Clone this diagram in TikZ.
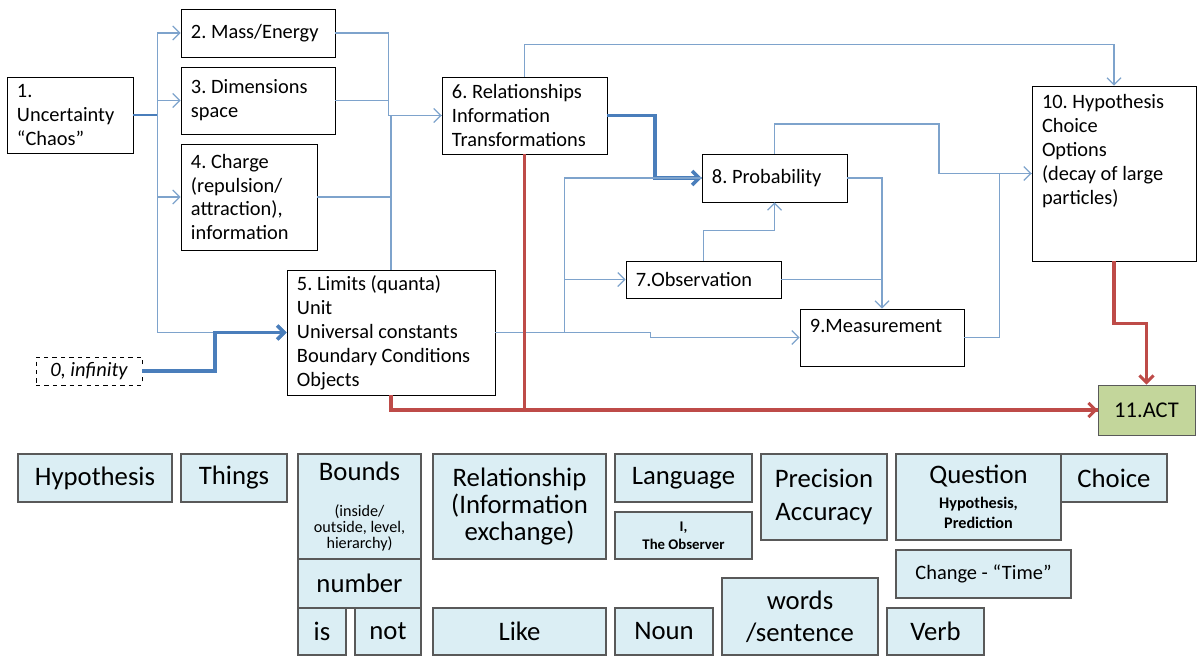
\documentclass[tikz,border=0pt]{standalone}
\usepackage{fontspec}
\setmainfont{Carlito}
\usepackage{tikz}
\usetikzlibrary{arrows.meta, positioning}

\definecolor{linkblue}{HTML}{7EA3CC}
\definecolor{flowblue}{HTML}{4A7EBB}
\definecolor{actred}{HTML}{BE4B48}
\definecolor{actgreen}{HTML}{C3D69B}
\definecolor{wordfill}{HTML}{DBEEF4}
\definecolor{wordline}{HTML}{595959}

\tikzstyle{stage} = [draw=black, rectangle, align=flush left, inner xsep=0.25cm, inner ysep=2pt, font=\fontsize{14.5}{17}\selectfont\frenchspacing]
\tikzstyle{word} = [draw=wordline, fill=wordfill, rectangle, align=center, inner sep=1pt, line width=0.8pt, font=\fontsize{19}{22}\selectfont]
\tikzstyle{link} = [linkblue, line width=0.9pt]
\tikzstyle{flow} = [flowblue, line width=2.6pt]
\tikzstyle{act} = [actred, line width=2.2pt]
\newcommand{\bigtxt}{\fontsize{19}{22}\selectfont}

\begin{document}
\begin{tikzpicture}[x=0.025cm, y=-0.025cm, >={Straight Barb[length=5pt,width=10pt]}]
        \useasboundingbox (0,0) rectangle (1200,657);
        % Stages
        \node[stage, minimum width=3.15cm, minimum height=1.9cm, text width=2.65cm] (unc) at (70,115) {1.\\Uncertainty\\``Chaos''};
        \node[stage, minimum width=3.85cm, minimum height=1.2cm, text width=3.35cm] (mass) at (258,33) {2. Mass/Energy};
        \node[stage, minimum width=3.85cm, minimum height=1.675cm, text width=3.35cm] (dim) at (258,100.5) {3. Dimensions\\space};
        \node[stage, minimum width=3.4cm, minimum height=2.65cm, text width=2.9cm] (charge) at (249,197) {4. Charge\\(repulsion/\\attraction),\\information};
        \node[stage, minimum width=5.2cm, minimum height=3.125cm, text width=4.7cm] (limits) at (391,332.5) {5. Limits (quanta)\\Unit\\Universal constants\\Boundary Conditions\\Objects};
        \node[stage, draw=black, dashed, minimum width=2.65cm, minimum height=0.7cm, align=center, inner xsep=2pt, font=\fontsize{14.5}{17}\selectfont\itshape] (zero) at (89,371) {0, infinity};
        \node[stage, minimum width=4.125cm, minimum height=1.925cm, text width=3.625cm] (rel) at (524.5,115.5) {6. Relationships\\Information\\Transformations};
        \node[stage, minimum width=3.875cm, minimum height=0.925cm, text width=3.375cm] (obs) at (703.5,279.5) {7.Observation};
        \node[stage, minimum width=3.625cm, minimum height=1.2cm, text width=3.125cm] (prob) at (774.5,178) {8. Probability};
        \node[stage, minimum width=4.1cm, minimum height=1.425cm, text width=3.6cm] (meas) at (882,337.5) {9.Measurement\\~};
        \node[stage, minimum width=4.1cm, minimum height=4.375cm, text width=3.6cm] (hyp) at (1114,173.5) {10. Hypothesis\\Choice\\Options\\(decay of large\\particles)\\~\\~};
        \node[stage, fill=actgreen, draw=wordline, align=center, minimum width=2.425cm, minimum height=1.25cm, inner xsep=2pt, font=\fontsize{16}{18}\selectfont] (actbox) at (1146.5,410) {11.ACT};

        % Connectors
        \draw[flowblue, line width=1.6pt] (unc.east) -- ++(24,0) coordinate (split);
        \draw[link] (split) -- (split |- mass.west);
        \draw[link,->] (split |- mass.west) -- (mass.west);
        \draw[link,->] (split) |- (dim.west);
        \draw[link,->] (split) |- (charge.west);
        \draw[link,->] (split) |- (limits.west);
        \draw[flow,->] (zero.east) -- ++(73,0) |- (limits.west);

        \draw[link,->] (mass.east) -- ++(53,0) |- (rel.west);
        \draw[link] (dim.east) -- ++(53,0);
        \draw[link] (charge.east) -- ++(74,0) |- (rel.west);
        \draw[link] (limits.north) |- (rel.west);

        \draw[link,->] (rel.north) -- ++(0,-32) -| (hyp.north);
        \draw[flow,->] (rel.east) -- ++(48,0) |- (prob.west);

        \draw[link] (limits.east) -- ++(69,0) coordinate (split2) |- (prob.west);
        \draw[link,->] (split2) |- (obs.west);
        \draw[link,->] (split2) -- ++(86,0) |- (meas.west);

        \draw[link,->] (obs.north) -- ++(0,-30) -| (prob.south);
        \draw[link,->] (prob.east) -| (meas.north);
        \draw[link] (obs.east) -- (obs.east -| meas.north);
        \draw[link,->] (prob.north) |- (939,124) |- (hyp.west);
        \draw[link] (meas.east) -- ++(35,0) |- (hyp.west);

        \draw[act] (limits.south) |- (actbox.west);
        \draw[act,->] (rel.south) |- (actbox.west);
        \draw[act,->] (hyp.south) -- ++(0,62) -| (actbox.north);

        % Word boxes
        \node[word, minimum width=3.85cm, minimum height=1.2cm] (w1) at (95,478) {Hypothesis};
        \node[word, minimum width=2.65cm, minimum height=1.2cm] (w2) at (234,478) {Things};
        \node[word, minimum width=3.075cm, minimum height=2.625cm, font=\fontsize{11.5}{11.5}\selectfont] (w3) at (359.5,506.5) {{\bigtxt Bounds}\\[14pt](inside/\\outside, level,\\hierarchy)};
        \node[word, minimum width=3.075cm, minimum height=1.225cm] (w4) at (359.5,583.5) {number};
        \node[word, minimum width=1.2cm, minimum height=1.175cm] (w5) at (322,631.5) {is};
        \node[word, minimum width=1.65cm, minimum height=1.175cm] (w6) at (388,631.5) {not};
        \node[word, minimum width=4.325cm, minimum height=2.625cm, font=\fontsize{19}{19}\selectfont] (w7) at (519.5,506.5) {Relationship\\(Information\\exchange)};
        \node[word, minimum width=4.325cm, minimum height=1.175cm] (w8) at (519.5,631.5) {Like};
        \node[word, minimum width=3.425cm, minimum height=1.2cm] (w9) at (683.5,478) {Language};
        \node[word, minimum width=3.425cm, minimum height=1.175cm, font=\fontsize{10.5}{13}\selectfont\bfseries] (w10) at (683.5,535.5) {I,\\The Observer};
        \node[word, minimum width=3.15cm, minimum height=2.15cm, font=\fontsize{19}{23}\selectfont] (w11) at (824,497) {Precision\\Accuracy};
        \node[word, minimum width=4.125cm, minimum height=2.15cm, font=\fontsize{11.5}{14}\selectfont\bfseries] (w12) at (978.5,497) {{\bigtxt\mdseries Question}\\[4pt]Hypothesis,\\Prediction};
        \node[word, minimum width=2.65cm, minimum height=1.2cm] (w13) at (1114,478) {Choice};
        \node[word, minimum width=4.375cm, minimum height=1.2cm, font=\fontsize{14.5}{17}\selectfont] (w14) at (983.5,574) {Change - ``Time''};
        \node[word, minimum width=2.45cm, minimum height=1.175cm] (w15) at (664,631.5) {Noun};
        \node[word, minimum width=3.9cm, minimum height=1.925cm, font=\fontsize{19}{23}\selectfont] (w16) at (800,616.5) {words\\/sentence};
        \node[word, minimum width=2.425cm, minimum height=1.175cm] (w17) at (935.5,631.5) {Verb};
\end{tikzpicture}
\end{document}
